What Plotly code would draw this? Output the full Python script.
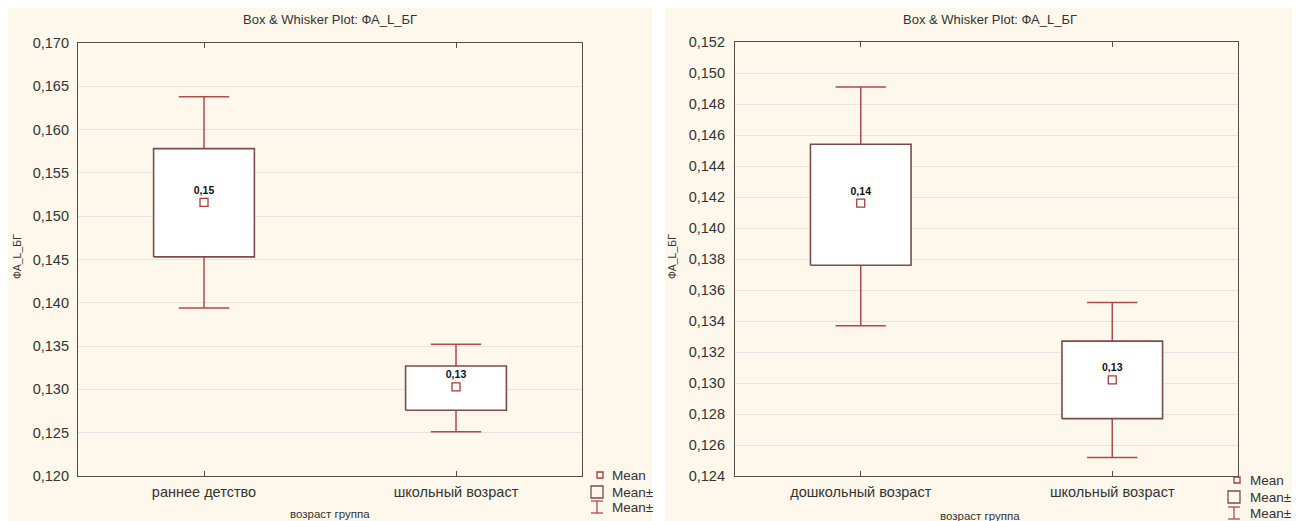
import plotly.graph_objects as go

# ---------------- data ----------------
left_categories = ["раннее детство", "школьный возраст"]
left_mean = [0.1516, 0.1303]
left_box_low = [0.1453, 0.1276]
left_box_high = [0.1578, 0.1327]
left_whisk_low = [0.1394, 0.1251]
left_whisk_high = [0.1638, 0.1352]
left_labels = ["0,15", "0,13"]

right_categories = ["дошкольный возраст", "школьный возраст"]
right_mean = [0.1416, 0.1302]
right_box_low = [0.1376, 0.1277]
right_box_high = [0.1454, 0.1327]
right_whisk_low = [0.1337, 0.1252]
right_whisk_high = [0.1491, 0.1352]
right_labels = ["0,14", "0,13"]

legend_labels = ["Mean", "Mean±", "Mean±"]
title_text = "Box & Whisker Plot: ФА_L_БГ"
y_title = "ФА_L_БГ"
x_title = "возраст группа"

BOX_HALF = 0.2
CAP_HALF = 0.1
BOX_COLOR = "#7d4b4b"
WHISK_COLOR = "#b04a4a"
MEAN_COLOR = "#a83a3a"
TEXT_COLOR = "#333333"
FONT = "Liberation Sans, Arial, sans-serif"

W, H = 1300, 521
OFF = 8  # page body margin compensation


def px(x):
    return (x - OFF) / W


def py(y):
    return 1 - (y - OFF) / H


fig = go.Figure()


def add_panel(xaxis, yaxis, means, blo, bhi, wlo, whi, labels):
    bx, by = [], []
    for i in range(len(means)):
        bx += [i - BOX_HALF, i + BOX_HALF, i + BOX_HALF, i - BOX_HALF, i - BOX_HALF, None]
        by += [blo[i], blo[i], bhi[i], bhi[i], blo[i], None]
    wx, wy = [], []
    for i in range(len(means)):
        wx += [i, i, None, i, i, None,
               i - CAP_HALF, i + CAP_HALF, None, i - CAP_HALF, i + CAP_HALF, None]
        wy += [bhi[i], whi[i], None, blo[i], wlo[i], None,
               whi[i], whi[i], None, wlo[i], wlo[i], None]
    fig.add_trace(go.Scatter(
        x=wx, y=wy, mode="lines", xaxis=xaxis, yaxis=yaxis,
        line=dict(color=WHISK_COLOR, width=1.5), showlegend=False, hoverinfo="skip"))
    fig.add_trace(go.Scatter(
        x=bx, y=by, mode="lines", fill="toself", fillcolor="white",
        xaxis=xaxis, yaxis=yaxis, line=dict(color=BOX_COLOR, width=1.6),
        showlegend=False, hoverinfo="skip"))
    fig.add_trace(go.Scatter(
        x=list(range(len(means))), y=means, mode="markers+text",
        text=labels, textposition="top center",
        textfont=dict(family=FONT, size=10.5, color="#111111", weight="bold"),
        marker=dict(symbol="square-open", size=8, color=MEAN_COLOR,
                    line=dict(width=1.3, color=MEAN_COLOR)),
        xaxis=xaxis, yaxis=yaxis, showlegend=False))


add_panel("x", "y", left_mean, left_box_low, left_box_high,
          left_whisk_low, left_whisk_high, left_labels)
add_panel("x2", "y2", right_mean, right_box_low, right_box_high,
          right_whisk_low, right_whisk_high, right_labels)

cream = "#fef8ec"

axis_common = dict(showline=True, linecolor="#4f4f4f", linewidth=1.2, mirror="ticks",
                   zeroline=False, automargin=False)

shapes = [
    dict(type="rect", xref="paper", yref="paper", x0=0, x1=px(652), y0=0, y1=1,
         fillcolor=cream, line=dict(width=0), layer="below"),
    dict(type="rect", xref="paper", yref="paper", x0=px(665), x1=1, y0=0, y1=1,
         fillcolor=cream, line=dict(width=0), layer="below"),
]
annotations = []

# hand-made legends (icon shapes + text) for both panels
legend_specs = [
    (600, 597, 610, [475, 492, 507]),
    (1237, 1234, 1248, [480, 497, 513]),
]
for sx, bxc, tx, ys in legend_specs:
    shapes.append(dict(type="rect", xref="paper", yref="paper",
                       x0=px(sx - 3), x1=px(sx + 3), y0=py(ys[0] + 3), y1=py(ys[0] - 3),
                       line=dict(color=MEAN_COLOR, width=1.3), fillcolor="rgba(0,0,0,0)"))
    shapes.append(dict(type="rect", xref="paper", yref="paper",
                       x0=px(bxc - 6), x1=px(bxc + 6), y0=py(ys[1] + 6), y1=py(ys[1] - 6),
                       line=dict(color=BOX_COLOR, width=1.3), fillcolor="rgba(0,0,0,0)"))
    shapes.append(dict(type="line", xref="paper", yref="paper",
                       x0=px(bxc), x1=px(bxc), y0=py(ys[2] - 6), y1=py(ys[2] + 6),
                       line=dict(color=WHISK_COLOR, width=1.3)))
    shapes.append(dict(type="line", xref="paper", yref="paper",
                       x0=px(bxc - 6), x1=px(bxc + 6), y0=py(ys[2] - 6), y1=py(ys[2] - 6),
                       line=dict(color=WHISK_COLOR, width=1.3)))
    shapes.append(dict(type="line", xref="paper", yref="paper",
                       x0=px(bxc - 6), x1=px(bxc + 6), y0=py(ys[2] + 6), y1=py(ys[2] + 6),
                       line=dict(color=WHISK_COLOR, width=1.3)))
    for lab, yy in zip(legend_labels, ys):
        annotations.append(dict(text=lab, xref="paper", yref="paper", x=px(tx), y=py(yy),
                                xanchor="left", yanchor="middle", showarrow=False,
                                font=dict(size=13.5, color=TEXT_COLOR)))

for cx in (330, 990):
    annotations.append(dict(text=title_text, xref="paper", yref="paper", x=px(cx), y=py(20),
                            xanchor="center", yanchor="middle", showarrow=False,
                            font=dict(size=13, color=TEXT_COLOR)))
for tx in (17, 672):
    annotations.append(dict(text=y_title, xref="paper", yref="paper", x=px(tx), y=py(257),
                            xanchor="center", yanchor="middle",
                            textangle=-90, showarrow=False,
                            font=dict(size=10.5, color=TEXT_COLOR)))
annotations.append(dict(text=x_title, xref="paper", yref="paper", x=px(330), y=py(514),
                        xanchor="center", yanchor="middle",
                        showarrow=False, font=dict(size=11.5, color=TEXT_COLOR)))
annotations.append(dict(text=x_title, xref="paper", yref="paper", x=px(980), y=py(516),
                        xanchor="center", yanchor="middle",
                        showarrow=False, font=dict(size=11.5, color=TEXT_COLOR)))

fig.update_layout(
    width=W, height=H, autosize=False,
    margin=dict(l=0, r=0, t=0, b=0, autoexpand=False),
    paper_bgcolor="white", plot_bgcolor="white",
    separators=", ",
    showlegend=False,
    font=dict(family=FONT, color=TEXT_COLOR, size=14.5),
    xaxis=dict(domain=[px(78), px(582)], range=[-0.5, 1.5], tickvals=[0, 1],
               ticktext=left_categories, ticks="inside", ticklen=5, tickcolor="#4f4f4f",
               ticklabelstandoff=2,
               showgrid=False, anchor="y", **axis_common),
    yaxis=dict(domain=[py(476), py(43)], range=[0.120, 0.170], dtick=0.005,
               tick0=0.120, tickformat=".3f", showgrid=True, gridcolor="#e4e4e4",
               ticks="", ticklabelstandoff=5, anchor="x", **axis_common),
    xaxis2=dict(domain=[px(735), px(1238)], range=[-0.5, 1.5], tickvals=[0, 1],
                ticktext=right_categories, ticks="inside", ticklen=5, tickcolor="#4f4f4f",
                ticklabelstandoff=2,
                showgrid=False, anchor="y2", **axis_common),
    yaxis2=dict(domain=[py(476), py(42)], range=[0.124, 0.152], dtick=0.002,
                tick0=0.124, tickformat=".3f", showgrid=True, gridcolor="#e4e4e4",
                ticks="", ticklabelstandoff=6, anchor="x2", **axis_common),
    shapes=shapes,
    annotations=annotations,
)

fig.write_html("out.html")
